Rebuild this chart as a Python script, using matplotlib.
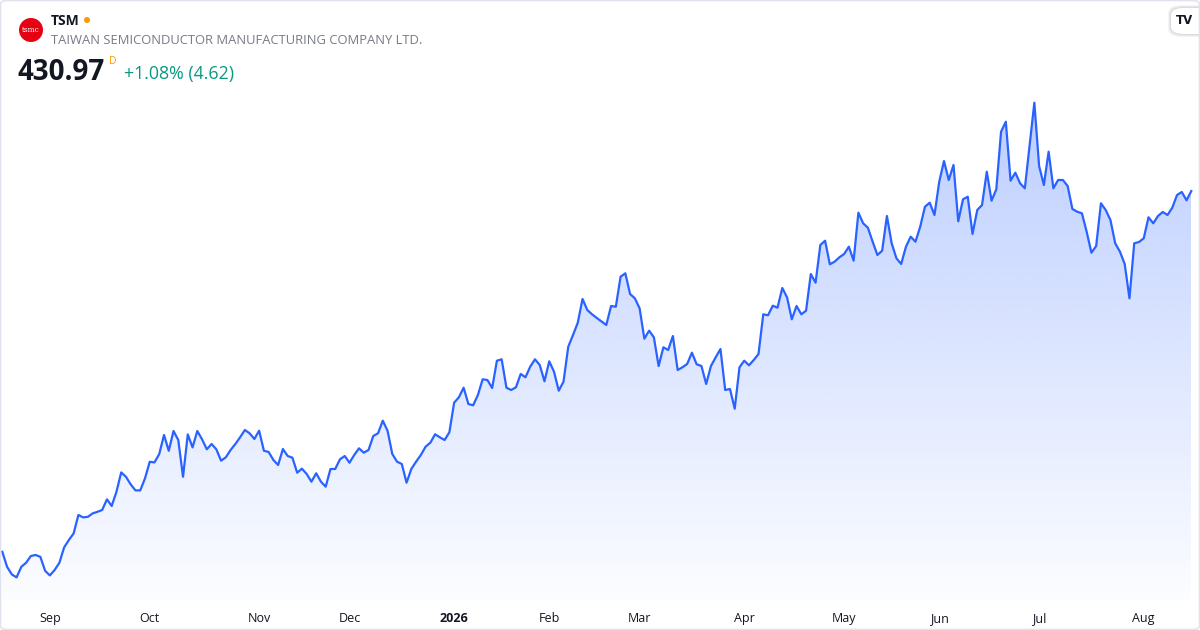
import numpy as np
import pandas as pd
import matplotlib
matplotlib.use("Agg")
import matplotlib.pyplot as plt
from matplotlib.patches import FancyBboxPatch, Ellipse

# ---------------- data ----------------
ticker = "TSM"
company = "TAIWAN SEMICONDUCTOR MANUFACTURING COMPANY LTD."
last_price_text = "430.97"
change_text = "+1.08% (4.62)"

start_date = "2025-08-18"
end_date = "2026-08-17"
market_holidays = ["2025-09-01", "2025-11-27", "2025-12-25", "2026-01-01",
                   "2026-01-19", "2026-02-16", "2026-04-03", "2026-05-25",
                   "2026-06-19", "2026-07-03"]

close_prices = [
    250.6, 243.1, 239.3, 237.8, 243.1, 245.1, 248.5, 249.0, 248.1, 241.1,
    238.8, 241.5, 245.1, 252.8, 256.5, 259.8, 269.0, 267.8, 268.1, 269.8,
    270.6, 271.5, 276.8, 273.5, 280.6, 290.3, 288.1, 284.3, 281.3, 281.3,
    287.3, 295.6, 295.3, 299.5, 309.0, 301.1, 311.0, 306.5, 288.1, 309.3,
    302.8, 311.0, 306.85, 301.85, 304.5, 301.85, 296.15, 297.85, 301.5, 304.5,
    307.85, 311.5, 309.85, 307.0, 311.15, 301.15, 300.5, 296.5, 294.0, 302.0,
    298.5, 297.65, 290.15, 292.15, 289.5, 285.65, 289.85, 285.65, 283.15, 292.0,
    292.0, 296.85, 298.5, 295.15, 299.0, 302.35, 300.15, 301.5, 308.5, 309.85,
    316.15, 311.15, 299.5, 295.65, 294.5, 285.15, 292.0, 295.65, 299.0, 303.15,
    305.15, 309.35, 307.85, 306.5, 310.35, 325.15, 327.85, 332.65, 324.5, 323.85,
    329.0, 336.85, 336.5, 332.5, 346.15, 346.85, 332.65, 331.5, 332.85, 339.5,
    337.85, 343.15, 346.85, 344.0, 335.85, 345.85, 340.65, 331.15, 335.65, 353.15,
    359.0, 365.15, 377.0, 371.5, 369.35, 367.5, 365.75, 364.0, 373.5, 373.15,
    388.15, 389.85, 379.5, 377.35, 372.35, 357.15, 361.15, 357.85, 343.5, 352.85,
    351.5, 358.5, 341.5, 342.85, 344.5, 350.15, 344.35, 343.5, 334.5, 343.5,
    347.85, 352.0, 331.5, 332.0, 322.15, 342.85, 346.15, 343.85, 346.5, 349.5,
    369.35, 368.85, 373.65, 372.65, 382.5, 377.85, 366.85, 373.5, 369.35, 371.15,
    389.5, 385.15, 404.0, 406.15, 394.35, 395.65, 397.85, 399.5, 403.15, 396.15,
    420.15, 414.85, 412.65, 405.65, 399.0, 401.15, 418.5, 404.85, 397.35, 394.5,
    403.15, 408.15, 405.65, 413.15, 423.15, 425.15, 419.0, 435.65, 446.0, 436.5,
    444.0, 415.85, 426.85, 428.15, 409.5, 421.5, 424.0, 440.65, 426.15, 431.85,
    460.65, 465.65, 436.15, 440.15, 434.85, 432.35, 454.0, 475.15, 443.5, 434.0,
    450.65, 432.35, 436.5, 436.5, 433.5, 422.0, 420.65, 419.85, 410.65, 400.15,
    403.5, 424.85, 421.5, 416.5, 404.85, 400.65, 394.5, 377.35, 404.85, 405.5,
    407.35, 417.85, 414.85, 418.5, 420.5, 419.0, 422.65, 429.0, 430.5, 426.35,
    430.97,
]

month_names = {1: "2026", 2: "Feb", 3: "Mar", 4: "Apr", 5: "May", 6: "Jun",
               7: "Jul", 8: "Aug", 9: "Sep", 10: "Oct", 11: "Nov", 12: "Dec"}

# ---------------- derived ----------------
dates = pd.bdate_range(start_date, end_date, freq="C", holidays=market_holidays)
n = min(len(dates), len(close_prices))
dates = dates[:n]
y = np.array(close_prices[:n])
x = np.arange(n)

tick_pos, tick_lab = [], []
for i in range(1, n):
    if dates[i].month != dates[i - 1].month:
        tick_pos.append(i)
        tick_lab.append(month_names[dates[i].month])

# ---------------- style ----------------
FONT = ["Open Sans", "DejaVu Sans"]
plt.rcParams["font.family"] = FONT
LINE = "#2962FF"

fig = plt.figure(figsize=(12, 6.3), dpi=100)
fig.patch.set_facecolor("white")

W, H = 1200, 630
ax = fig.add_axes([0, 30 / H, 1, 600 / H])
ax.set_facecolor("none")
ylo, yhi = 226.5, 526.5
ax.set_xlim(-0.484, 251.83)
ax.set_ylim(ylo, yhi)

# gradient fill under the line
top_val = y.max()
grad_n = 256
alpha = np.linspace(0.31, 0.015, grad_n)
rgba = np.zeros((grad_n, 1, 4))
rgba[..., 0] = 41 / 255
rgba[..., 1] = 98 / 255
rgba[..., 2] = 1.0
rgba[:, 0, 3] = alpha
im = ax.imshow(rgba, extent=[x[0], x[-1], ylo, top_val], aspect="auto",
               origin="upper", interpolation="bilinear", zorder=1)
poly = ax.fill_between(x, y, ylo, color="none", lw=0)
im.set_clip_path(poly.get_paths()[0], transform=ax.transData)

ax.plot(x, y, color=LINE, lw=1.6, solid_joinstyle="round", zorder=3)

for s in ax.spines.values():
    s.set_visible(False)
ax.set_yticks([])
ax.set_xticks(tick_pos)
ax.set_xticklabels(tick_lab)
ax.tick_params(axis="x", length=0, pad=8.5, labelsize=9, labelcolor="#131722")
for lab in ax.get_xticklabels():
    if lab.get_text() == "2026":
        lab.set_fontweight("bold")

# ---------------- header ----------------
def fx(px):
    return px / W

def fy(py):
    return 1 - py / H

fig.patches.append(Ellipse((fx(31), fy(30)), 24 / W, 24 / H, transform=fig.transFigure,
                           facecolor="#E60012", edgecolor="none", zorder=5))
fig.text(fx(31), fy(30.5), "tsmc", color="white", fontsize=5.3, ha="center", va="center",
         family=["DejaVu Serif"], zorder=6)

fig.text(fx(51), fy(21), ticker, fontsize=10, fontweight="bold", color="#131722",
         ha="left", va="center")
fig.patches.append(Ellipse((fx(87), fy(20)), 6 / W, 6 / H, transform=fig.transFigure,
                           facecolor="#FF9800", edgecolor="none"))
fig.text(fx(51), fy(40.5), company, fontsize=9.35, color="#787B86", ha="left", va="center")

fig.text(fx(18), fy(72), last_price_text, fontsize=20, fontweight="bold",
         color="#131722", ha="left", va="center")
fig.text(fx(108.5), fy(61), "D", fontsize=7.5, color="#FF9800", ha="left", va="center")
fig.text(fx(124), fy(74), change_text, fontsize=12.8, color="#089981", ha="left", va="center")

# TradingView badge (white pill with soft shadow)
for k, a in [(3, 0.04), (2, 0.05), (1, 0.06)]:
    fig.patches.append(FancyBboxPatch((fx(1171 - k), fy(34 + k)), (42 + 2 * k) / W, (26 + 2 * k) / H,
                                      boxstyle="round,pad=0,rounding_size=0.012",
                                      transform=fig.transFigure, facecolor=(0, 0, 0, a),
                                      edgecolor="none", zorder=6))
fig.patches.append(FancyBboxPatch((fx(1171), fy(34)), 42 / W, 26 / H,
                                  boxstyle="round,pad=0,rounding_size=0.011",
                                  transform=fig.transFigure, facecolor="white",
                                  edgecolor="none", zorder=6))
fig.text(fx(1185), fy(20.5), "TV", fontsize=8.5, fontweight="heavy", color="#131722",
         ha="center", va="center", zorder=7, family=["DejaVu Sans"])

# outer border
border = FancyBboxPatch((0.5 / W, 0.5 / H), 1 - 1 / W, 1 - 1 / H,
                        boxstyle="round,pad=0,rounding_size=0.006",
                        transform=fig.transFigure, facecolor="none",
                        edgecolor="#E0E3EB", lw=1.2, zorder=10)
fig.patches.append(border)

fig.savefig("out.png", dpi=100, facecolor="white")
